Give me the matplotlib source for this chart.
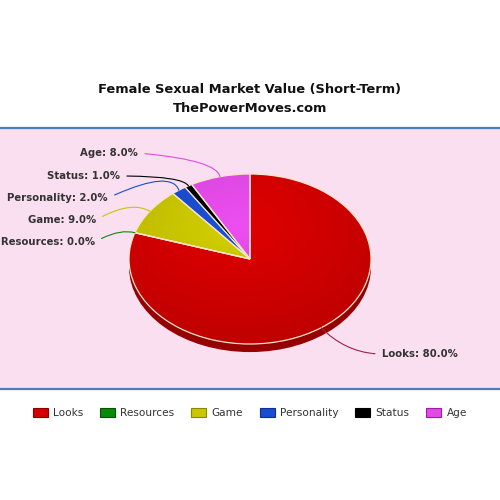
import matplotlib
matplotlib.use("Agg")
import matplotlib.pyplot as plt
import numpy as np
from matplotlib.patches import Ellipse, Patch
from matplotlib.colors import to_rgb

categories = ["Looks", "Resources", "Game", "Personality", "Status", "Age"]
values = [80.0, 0.0, 9.0, 2.0, 1.0, 8.0]
colors = ["#d60000", "#0a8a0a", "#cac600", "#1a4cd0", "#000000", "#e24ae6"]
legend_edge = ["#8a0000", "#045004", "#8a8700", "#0c2f90", "#000000", "#a01ca8"]
title_lines = ["Female Sexual Market Value (Short-Term)", "ThePowerMoves.com"]

W = H = 500
fig = plt.figure(figsize=(5, 5), dpi=100)
fig.patch.set_facecolor("white")

# pink band with blue borders
bg = fig.add_axes([0, 1 - 389 / H, 1, (389 - 128) / H])
bg.set_facecolor("#fadff0")
bg.set_xticks([]); bg.set_yticks([])
for s in ["left", "right"]:
    bg.spines[s].set_visible(False)
for s in ["top", "bottom"]:
    bg.spines[s].set_color("#4a7cc0")
    bg.spines[s].set_linewidth(1.6)
bg.set_zorder(0)

# title
fig.text(0.5, 1 - 90 / H, title_lines[0], ha="center", va="center",
         fontsize=9.4, fontweight="bold", color="#111111", family="DejaVu Sans")
fig.text(0.5, 1 - 109 / H, title_lines[1], ha="center", va="center",
         fontsize=9.4, fontweight="bold", color="#111111", family="DejaVu Sans")

# pie axes: ellipse center (250,259), rx 121, ry 85
cx, cy, rx, ry = 250, 259, 121, 85
ax = fig.add_axes([(cx - rx) / W, 1 - (cy + ry) / H, 2 * rx / W, 2 * ry / H])
ax.axis("off")
ax.set_zorder(2)

# 3D rim / shadow
shadow = Ellipse((0, -0.095), 2, 2, facecolor="#960000", edgecolor="none",
                 clip_on=False, zorder=1)
ax.add_patch(shadow)

wedges, _ = ax.pie(values, colors=colors, startangle=90, counterclock=False,
                   radius=1, wedgeprops=dict(edgecolor="#f6e4cc", linewidth=0.9),
                   normalize=True)
for w in wedges:
    w.set_clip_on(False)
    w.set_zorder(2)

# mild shading gradient clipped to each wedge
n = 240
xs = np.linspace(-1, 1, n)
X, Y = np.meshgrid(xs, xs[::-1])
D = np.sqrt((X + 0.1) ** 2 + (Y - 0.4) ** 2)
shade = np.clip(1.05 - 0.11 * D, 0.84, 1.06)
for w, c in zip(wedges, colors):
    if w.theta2 - w.theta1 <= 0 or c == "#000000":
        continue
    rgb = np.array(to_rgb(c))
    img = np.clip(shade[..., None] * rgb[None, None, :], 0, 1)
    im = ax.imshow(img, extent=(-1, 1, -1, 1), aspect="auto", zorder=2.5,
                   interpolation="bilinear")
    im.set_clip_path(w)
# edges on top
for w, c in zip(wedges, colors):
    w.set_zorder(3)
    if c != "#000000":
        w.set_facecolor("none")

ax.set_xlim(-1, 1); ax.set_ylim(-1, 1)
ax.set_aspect("auto")

# labels
label_pos = {
    "Looks": (382, 354, "left"),
    "Resources": (95, 242, "right"),
    "Game": (96, 220, "right"),
    "Personality": (108, 198, "right"),
    "Status": (120, 176, "right"),
    "Age": (138, 153, "right"),
}
conn = {
    "Looks": "angle3,angleA=0,angleB=-45",
    "Resources": "angle3,angleA=30,angleB=-15",
    "Game": "angle3,angleA=30,angleB=-30",
    "Personality": "angle3,angleA=25,angleB=-70",
    "Status": "angle3,angleA=0,angleB=-60",
    "Age": "angle3,angleA=-5,angleB=-80",
}
for w, cat, val, col in zip(wedges, categories, values, colors):
    th = np.deg2rad((w.theta1 + w.theta2) / 2)
    px, py, ha = label_pos[cat]
    ax.annotate(f"{cat}: {val:.1f}%", xy=(np.cos(th), np.sin(th)), xycoords="data",
                xytext=(px, H - py), textcoords="figure pixels",
                ha=ha, va="center", fontsize=7.3, fontweight="bold",
                color="#333333", annotation_clip=False, zorder=5,
                arrowprops=dict(arrowstyle="-", color=col if cat != "Looks" else "#a0204a",
                                lw=0.8, connectionstyle=conn[cat],
                                relpos=(1, 0.5) if ha == "right" else (0, 0.5),
                                shrinkA=3, shrinkB=0))

# legend
handles = [Patch(facecolor=c, edgecolor=e, linewidth=0.8) for c, e in zip(colors, legend_edge)]
fig.legend(handles, categories, loc="center", bbox_to_anchor=(0.5, 1 - 413 / H),
           ncol=6, frameon=False, fontsize=7.6, handlelength=1.4, handleheight=1.0,
           handletextpad=0.5, columnspacing=1.6, labelcolor="#333333")

fig.savefig("out.png", dpi=100)
